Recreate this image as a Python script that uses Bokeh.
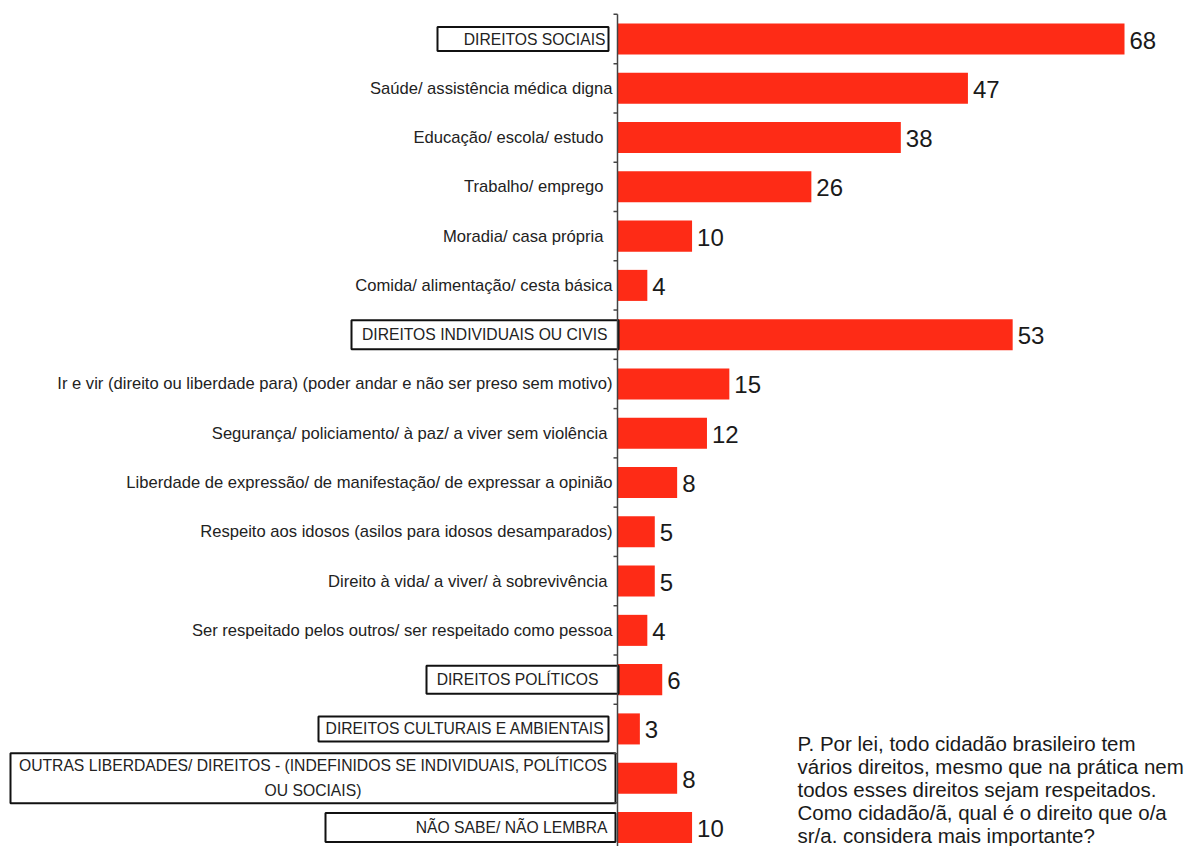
from bokeh.plotting import figure
from bokeh.models import Range1d, Label, ColumnDataSource
from bokeh.core.properties import value
from bokeh.embed import file_html
from bokeh.resources import INLINE

# ---------------- data ----------------
categories = [
    "DIREITOS SOCIAIS",
    "Saúde/ assistência médica digna",
    "Educação/ escola/ estudo",
    "Trabalho/ emprego",
    "Moradia/ casa própria",
    "Comida/ alimentação/ cesta básica",
    "DIREITOS INDIVIDUAIS OU CIVIS",
    "Ir e vir (direito ou liberdade para) (poder andar e não ser preso sem motivo)",
    "Segurança/ policiamento/ à paz/ a viver sem violência",
    "Liberdade de expressão/ de manifestação/ de expressar a opinião",
    "Respeito aos idosos (asilos para idosos desamparados)",
    "Direito à vida/ a viver/ à sobrevivência",
    "Ser respeitado pelos outros/ ser respeitado como pessoa",
    "DIREITOS POLÍTICOS",
    "DIREITOS CULTURAIS E AMBIENTAIS",
    "OUTRAS LIBERDADES/ DIREITOS - (INDEFINIDOS SE INDIVIDUAIS, POLÍTICOS\nOU SOCIAIS)",
    "NÃO SABE/ NÃO LEMBRA",
]
values = [68, 47, 38, 26, 10, 4, 53, 15, 12, 8, 5, 5, 4, 6, 3, 8, 10]
boxed = [True, False, False, False, False, False, True, False, False, False,
         False, False, False, True, True, True, True]
question = [
    "P. Por lei, todo cidadão brasileiro tem",
    "vários direitos, mesmo que na prática nem",
    "todos esses direitos sejam respeitados.",
    "Como cidadão/ã, qual é o direito que o/a",
    "sr/a. considera mais importante?",
]

# ---------------- layout / style ----------------
W, H = 1188, 846
AXIS_PX = 617.0          # canvas x of the value axis
SCALE = 7.456            # px per unit
ROW0 = 38.5              # canvas y of first row centre
ROW = 49.28              # px per row
BAR_H = 0.63
RED = "#FE2B16"
FONT = value("Liberation Sans")

# right end (px) of each label's text
label_end_px = [605, 612, 603, 603, 603, 612, 607, 612, 607, 612, 612, 607, 612,
                598, 604, 0, 607]
# box extents (px): left, right, height
box_px = {0: (437, 608, 24), 6: (351, 618, 29), 13: (426, 618, 28),
          14: (318, 608, 25), 15: (10, 615, 50), 16: (325, 615, 29)}

def px2x(px):
    return (px - AXIS_PX) / SCALE

n = len(categories)
idx = list(range(n))

p = figure(width=W, height=H, output_backend="svg", toolbar_location=None,
           x_range=Range1d(px2x(0), px2x(W)),
           y_range=Range1d((H - ROW0) / ROW, -ROW0 / ROW),
           min_border=0, outline_line_color=None)
p.xaxis.visible = False
p.yaxis.visible = False
p.xgrid.visible = False
p.ygrid.visible = False
p.background_fill_color = "white"
p.border_fill_color = "white"

# bars
src = ColumnDataSource(dict(y=idx, v=values, lab=[str(v) for v in values]))
p.hbar(y="y", right="v", left=0, height=BAR_H, source=src,
       fill_color=RED, line_color=None)

# value labels
p.text(x="v", y="y", text="lab", source=src, x_offset=5, y_offset=1,
       text_align="left", text_baseline="middle",
       text_font=FONT, text_font_size="24px", text_color="#1a1a1a")

# boxes
bi = sorted(box_px)
p.quad(left=[px2x(box_px[i][0]) for i in bi],
       right=[px2x(box_px[i][1]) for i in bi],
       bottom=[i + box_px[i][2] / 2 / ROW for i in bi],
       top=[i - box_px[i][2] / 2 / ROW for i in bi],
       fill_color="white", line_color="#111111", line_width=2)

# axis line and ticks
p.segment(x0=[0], y0=[-0.5], x1=[0], y1=[n], line_color="#444444", line_width=1.5)
tick_y = [i - 0.5 for i in range(n + 1)]
p.segment(x0=[0] * len(tick_y), y0=tick_y, x1=[px2x(AXIS_PX - 4)] * len(tick_y),
          y1=tick_y, line_color="#444444", line_width=1.5)

# category labels
plain_i = [i for i in idx if not boxed[i]]
p.text(x=[px2x(label_end_px[i]) for i in plain_i], y=plain_i,
       text=[categories[i] for i in plain_i],
       text_align="right", text_baseline="middle",
       text_font=FONT, text_font_size="16.6px", text_color="#222222")

box_i = [i for i in idx if boxed[i] and "\n" not in categories[i]]
p.text(x=[px2x(label_end_px[i]) for i in box_i], y=box_i,
       text=[categories[i] for i in box_i],
       text_align="right", text_baseline="middle",
       text_font=FONT, text_font_size="15.7px", text_color="#222222")

multi_i = [i for i in idx if "\n" in categories[i]]
p.text(x=[(px2x(box_px[i][0]) + px2x(box_px[i][1])) / 2 for i in multi_i],
       y=multi_i, text=[categories[i] for i in multi_i],
       text_align="center", text_baseline="middle", text_line_height=1.45,
       text_font=FONT, text_font_size="15.7px", text_color="#222222")

# question text
for k, line in enumerate(question):
    p.add_layout(Label(x=797, y=H - 743 - 23 * k, x_units="screen", y_units="screen",
                       text=line, text_font="Liberation Sans", text_font_size="20.5px",
                       text_color="#1a1a1a", text_baseline="middle", text_align="left"))

open("out.html", "w").write(file_html(p, INLINE))
